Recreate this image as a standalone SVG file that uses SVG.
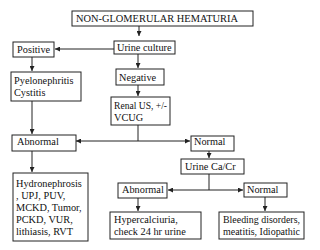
<svg xmlns="http://www.w3.org/2000/svg" width="320" height="250" viewBox="0 0 320 250">
<style>
rect{fill:#fff;stroke:#222;stroke-width:1}
text{font-family:"Liberation Serif","Times New Roman",serif;font-size:10.3px;fill:#111}
.c line,.c path{stroke:#222;stroke-width:1;fill:none}
</style>
<defs>
<marker id="a" viewBox="0 0 6 6" refX="6" refY="3" markerWidth="5" markerHeight="5" orient="auto" markerUnits="userSpaceOnUse"><path d="M0,0L6,3L0,6z" fill="#222"/></marker>
</defs>
<rect width="320" height="250" style="fill:#fff;stroke:none"/>
<g class="c">
<line x1="139" y1="26" x2="139" y2="36" marker-end="url(#a)"/>
<line x1="114" y1="49" x2="55" y2="49" marker-end="url(#a)"/>
<line x1="32" y1="57" x2="32" y2="71" marker-end="url(#a)"/>
<line x1="138" y1="54" x2="138" y2="68" marker-end="url(#a)"/>
<line x1="138" y1="85" x2="138" y2="96" marker-end="url(#a)"/>
<line x1="32" y1="101" x2="32" y2="134" marker-end="url(#a)"/>
<line x1="138" y1="125" x2="138" y2="141"/>
<line x1="138" y1="141" x2="76" y2="141" marker-end="url(#a)"/>
<line x1="138" y1="141" x2="190" y2="141" marker-end="url(#a)"/>
<line x1="209" y1="151" x2="209" y2="158" marker-end="url(#a)"/>
<line x1="32" y1="151" x2="32" y2="172" marker-end="url(#a)"/>
<line x1="209" y1="174" x2="209" y2="190"/>
<line x1="209" y1="190" x2="168" y2="190" marker-end="url(#a)"/>
<line x1="209" y1="190" x2="243" y2="190" marker-end="url(#a)"/>
<line x1="138" y1="198" x2="138" y2="211" marker-end="url(#a)"/>
<line x1="265" y1="197" x2="265" y2="211" marker-end="url(#a)"/>
</g>
<g id="title"><rect x="72" y="11" width="181" height="15"/><text x="76" y="22" textLength="162" lengthAdjust="spacingAndGlyphs">NON-GLOMERULAR HEMATURIA</text></g>
<g id="urine-culture"><rect x="114" y="41" width="61" height="13"/><text x="117" y="51">Urine culture</text></g>
<g id="positive"><rect x="13" y="42" width="41" height="15"/><text x="17" y="53">Positive</text></g>
<g id="pyelonephritis"><rect x="11" y="72" width="70" height="29"/><text x="14" y="84">Pyelonephritis</text><text x="14" y="96">Cystitis</text></g>
<g id="negative"><rect x="116" y="69" width="48" height="16"/><text x="119" y="81">Negative</text></g>
<g id="renal-us"><rect x="111" y="97" width="59" height="28"/><text x="114" y="109" textLength="53" lengthAdjust="spacingAndGlyphs">Renal US, +/-</text><text x="114" y="121">VCUG</text></g>
<g id="abnormal1"><rect x="12" y="135" width="64" height="16"/><text x="17" y="145">Abnormal</text></g>
<g id="normal1"><rect x="191" y="136" width="43" height="15"/><text x="194" y="145">Normal</text></g>
<g id="urine-ca-cr"><rect x="181" y="159" width="63" height="15"/><text x="185" y="170">Urine Ca/Cr</text></g>
<g id="hydronephrosis"><rect x="13" y="173" width="75" height="68"/><text x="16" y="187">Hydronephrosis</text><text x="16" y="199">, UPJ, PUV,</text><text x="16" y="211">MCKD, Tumor,</text><text x="16" y="223">PCKD, VUR,</text><text x="16" y="235">lithiasis, RVT</text></g>
<g id="abnormal2"><rect x="118" y="183" width="49" height="15"/><text x="122" y="193">Abnormal</text></g>
<g id="normal2"><rect x="244" y="183" width="43" height="14"/><text x="247" y="193">Normal</text></g>
<g id="hypercalciuria"><rect x="110" y="212" width="91" height="27"/><text x="114" y="223">Hypercalciuria,</text><text x="114" y="235">check 24 hr urine</text></g>
<g id="bleeding"><rect x="219" y="212" width="85" height="27"/><text x="223" y="223" textLength="77" lengthAdjust="spacingAndGlyphs">Bleeding disorders,</text><text x="223" y="235" textLength="77" lengthAdjust="spacingAndGlyphs">meatitis, Idiopathic</text></g>
</svg>
